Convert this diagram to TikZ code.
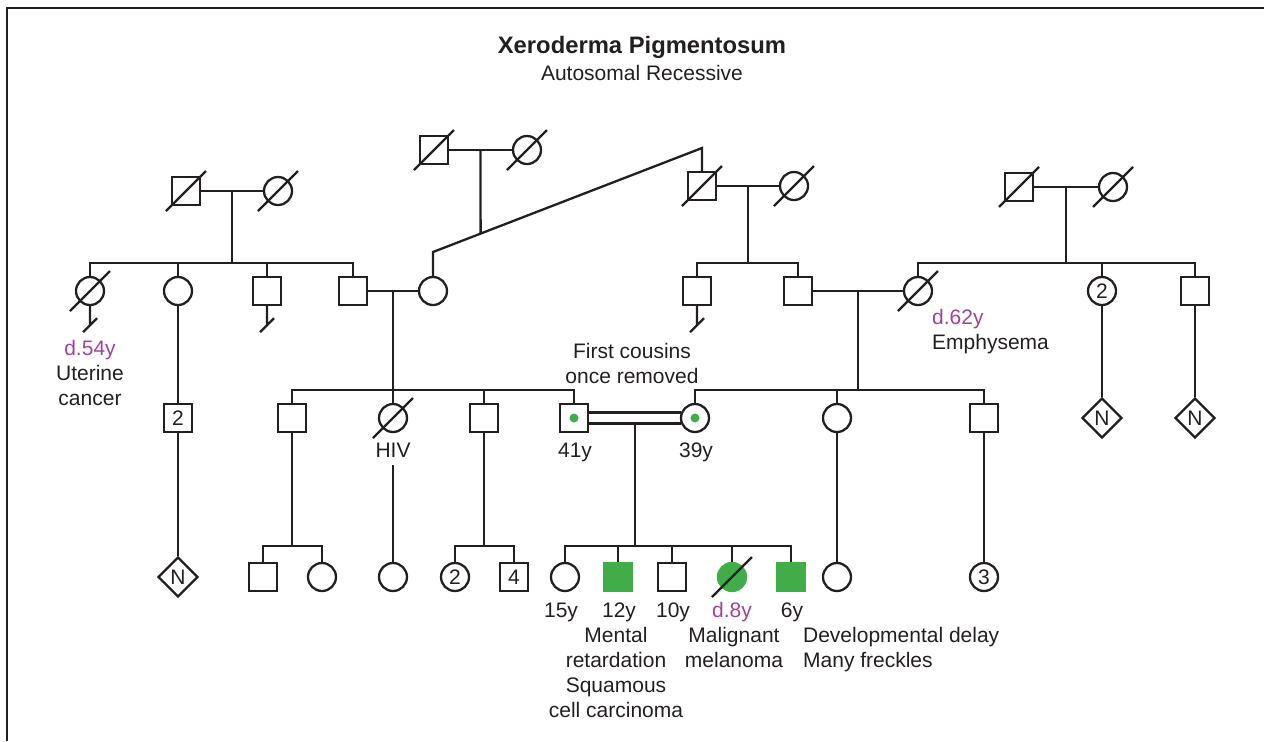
\documentclass[tikz,border=0pt]{standalone}
\usepackage{fontspec}
\setmainfont{Liberation Sans}
\usetikzlibrary{positioning,calc,shapes.geometric}
\definecolor{xpgreen}{RGB}{64,173,73}
\definecolor{xppurple}{RGB}{158,66,160}
\definecolor{ink}{RGB}{35,31,32}
\newcommand{\dead}[1]{\draw ($(#1)+(-20,20)$) -- ($(#1)+(20,-20)$);}
\newcommand{\nokids}[1]{\draw (#1.south) -- ++(0,19) ++(-7,7) -- ++(14,-14);}

\begin{document}
\begin{tikzpicture}[x=0.5pt,y=-0.5pt,line width=1.15pt,color=ink,
  font=\fontsize{10.5}{12.5}\selectfont,
  male/.style={draw,rectangle,minimum size=14pt,inner sep=0pt},
  female/.style={draw,circle,minimum size=14pt,inner sep=0pt},
  unknown/.style={draw,diamond,aspect=1,minimum size=20pt,inner sep=0pt},
  affected/.style={fill=xpgreen,draw=xpgreen},
  note/.style={align=center,inner sep=0pt,anchor=base}]
\useasboundingbox (0,0) rectangle (1264,741);
\draw[line width=1.4pt] (7,741) -- (7,8) -- (1264,8);

\node[note,font=\fontsize{11.9}{14}\selectfont\bfseries] (title) at (642,53) {Xeroderma Pigmentosum};
\node[note] (subtitle) at (642,80) {Autosomal Recessive};

% generation I
\node[male] (gp1m) at (186,191) {};
\node[female] (gp1f) at (278,191) {};
\node[male] (gp2m) at (434,150) {};
\node[female] (gp2f) at (527,150) {};
\node[male] (gp3m) at (702,186) {};
\node[female] (gp3f) at (794,186) {};
\node[male] (gp4m) at (1019,187) {};
\node[female] (gp4f) at (1113,187) {};
\foreach \n in {gp1m,gp1f,gp2m,gp2f,gp3m,gp3f,gp4m,gp4f} {\dead{\n}}
\draw (gp1m) -- coordinate (u1) (gp1f);
\draw (gp2m) -- coordinate (u2) (gp2f);
\draw (gp3m) -- coordinate (u3) (gp3f);
\draw (gp4m) -- coordinate (u4) (gp4f);

% generation II
\node[female] (a1) at (90,291) {};
\node[female] (a2) at (178,291) {};
\node[male] (a3) at (267,291) {};
\node[male] (a4) at (353,291) {};
\node[female] (a5) at (433,291) {};
\node[male] (b1) at (697,291) {};
\node[male] (b2) at (798,291) {};
\node[female] (c1) at (918,291) {};
\node[female] (c2) at (1102,291) {2};
\node[male] (c3) at (1195,291) {};
\dead{a1} \dead{c1}
\nokids{a1} \nokids{a3} \nokids{b1}

\draw (u1) -- (u1 |- 0,263) coordinate (s1);
\foreach \c in {a1,a2,a3,a4} \draw (s1) -| (\c);
\coordinate (d1) at (433,252);
\coordinate (d2) at (702,148);
\draw (a5) -- (d1) -- (d2) -- (gp3m);
\draw (u2) -- ($(d1)!0.177!(d2)$);
\draw (u3) -- (u3 |- 0,263) coordinate (s3);
\foreach \c in {b1,b2} \draw (s3) -| (\c);
\draw (u4) -- (u4 |- 0,263) coordinate (s4);
\foreach \c in {c1,c2,c3} \draw (s4) -| (\c);
\draw (a4) -- coordinate (u5) (a5);
\draw (b2) -- coordinate (u6) (c1);

\node[note] (lbl54) at (90,405) {\textcolor{xppurple}{d.54y}\\Uterine\\cancer};
\node[note,anchor=base west,align=left] (lbl62) at (931,349) {\textcolor{xppurple}{d.62y}\\Emphysema};

% generation III
\node[male] (e1) at (178,418) {2};
\node[unknown] (e2) at (178,577) {N};
\draw (a2) -- (e1);
\draw (e1) -- (e2);
\node[male] (f1) at (292,418) {};
\node[female] (f2) at (393,418) {};
\node[male] (f3) at (484,418) {};
\node[male] (f4) at (574,418) {};
\node[female] (g1) at (695,418) {};
\node[female] (g2) at (837,418) {};
\node[male] (g3) at (984,418) {};
\node[unknown] (c2n) at (1102,418) {N};
\node[unknown] (c3n) at (1195,418) {N};
\draw (c2) -- (c2n);
\draw (c3) -- (c3n);
\dead{f2}
\fill[xpgreen] (f4) circle (2.25pt);
\fill[xpgreen] (g1) circle (2.25pt);
\draw (u5) -- (u5 |- 0,390) coordinate (s5);
\foreach \c in {f1,f2,f3,f4} \draw (s5) -| (\c);
\draw (u6) -- (u6 |- 0,390) coordinate (s6);
\foreach \c in {g1,g2,g3} \draw (s6) -| (\c);
\draw (g1.159) -- (f4.east |- g1.159);
\draw (g1.201) -- coordinate (u7) (f4.east |- g1.201);

\node[note] (cousins) at (632,383) {First cousins\\once removed};
\node[note,inner sep=3.5pt] (hiv) at (393,457) {HIV};
\node[note] (age41) at (575,457) {41y};
\node[note] (age39) at (696,457) {39y};

% generation IV
\node[male] (h1) at (263,577) {};
\node[female] (h2) at (322,577) {};
\node[female] (h3) at (393,577) {};
\node[female] (h4) at (455,577) {2};
\node[male] (h5) at (514,577) {4};
\node[female] (k1) at (565,577) {};
\node[male,affected] (k2) at (618,577) {};
\node[male] (k3) at (672,577) {};
\node[female,affected] (k4) at (732,577) {};
\node[male,affected] (k5) at (791,577) {};
\node[female] (h6) at (837,577) {};
\node[female] (h7) at (984,577) {3};
\dead{k4}
\draw (f1) -- (f1 |- 0,546) coordinate (s8);
\foreach \c in {h1,h2} \draw (s8) -| (\c);
\draw (hiv) -- (h3);
\draw (f3) -- (f3 |- 0,546) coordinate (s9);
\foreach \c in {h4,h5} \draw (s9) -| (\c);
\draw (u7) -- (u7 |- 0,546) coordinate (s7);
\foreach \c in {k1,k2,k3,k4,k5} \draw (s7) -| (\c);
\draw (g2) -- (h6);
\draw (g3) -- (h7);

\node[note] (age15) at (561,617) {15y};
\node[note] (age12) at (619,617) {12y};
\node[note] (age10) at (673,617) {10y};
\node[note,text=xppurple] (age8) at (732,617) {d.8y};
\node[note] (age6) at (792,617) {6y};
\node[note] (lblk2) at (616,717) {Mental\\retardation\\Squamous\\cell carcinoma};
\node[note] (lblk4) at (734,667) {Malignant\\melanoma};
\node[note,anchor=base west,align=left] (lblh6) at (802,667) {Developmental delay\\Many freckles};
\end{tikzpicture}
\end{document}
